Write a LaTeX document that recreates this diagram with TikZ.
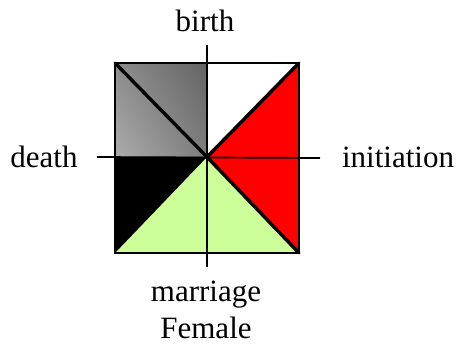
\documentclass[tikz,border=0pt]{standalone}
\usepackage{fontspec}
\setmainfont{Liberation Serif}
\usetikzlibrary{positioning,shadings}
\definecolor{lightgreen}{RGB}{204,255,153}
\definecolor{greyA}{RGB}{140,140,140}
\definecolor{greyB}{RGB}{100,100,100}
\definecolor{greyC}{RGB}{172,172,172}
\definecolor{greyD}{RGB}{125,125,125}

\begin{document}
\begin{tikzpicture}[x=1pt, y=1pt,
    lbl/.style={font=\fontsize{31}{37}\selectfont, inner sep=0pt, align=center},
    edge/.style={line width=1.4pt},
    diag/.style={line width=3.4pt, line cap=round},
    axis/.style={line width=1.7pt}
]
\useasboundingbox (0,0) rectangle (459,345);
% square: corners, middles of the sides, centre
\coordinate (c) at (207,188);
\coordinate (tl) at (115,282);
\coordinate (tr) at (299,282);
\coordinate (bl) at (115,92);
\coordinate (br) at (299,92);
\coordinate (tm) at (207,282);
\coordinate (ml) at (115,188);
\coordinate (mr) at (299,188);
% ends of the two axes
\coordinate (ntop) at (207,300);
\coordinate (sbot) at (207,78);
\coordinate (wend) at (97,188);
\coordinate (eend) at (320,187);

% the coloured parts
\shade[upper left=greyA, upper right=greyB, lower left=greyC, lower right=greyD]
    (ml) rectangle (tm);
\fill[white] (c) -- (tm) -- (tr) -- cycle;
\fill[red] (c) -- (tr) -- (br) -- cycle;
\fill[lightgreen] (c) -- (br) -- (bl) -- cycle;
\fill[black] (c) -- (bl) -- (ml) -- cycle;

\draw[edge] (tl) rectangle (br);
\draw[diag] (tl) -- (c) -- (tr);
\draw[diag] (c) -- (br);

% axes
\draw[axis] (ntop) -- (sbot);
\draw[axis] (wend) -- (eend);

% labels
\node[lbl, anchor=base] (birth) at (205,313) {birth};
\node[lbl, anchor=base] (death) at (44,177) {death};
\node[lbl, anchor=base] (initiation) at (398,177) {initiation};
\node[lbl, anchor=north] (marriage) at (206,64) {marriage\\Female};
\end{tikzpicture}
\end{document}
